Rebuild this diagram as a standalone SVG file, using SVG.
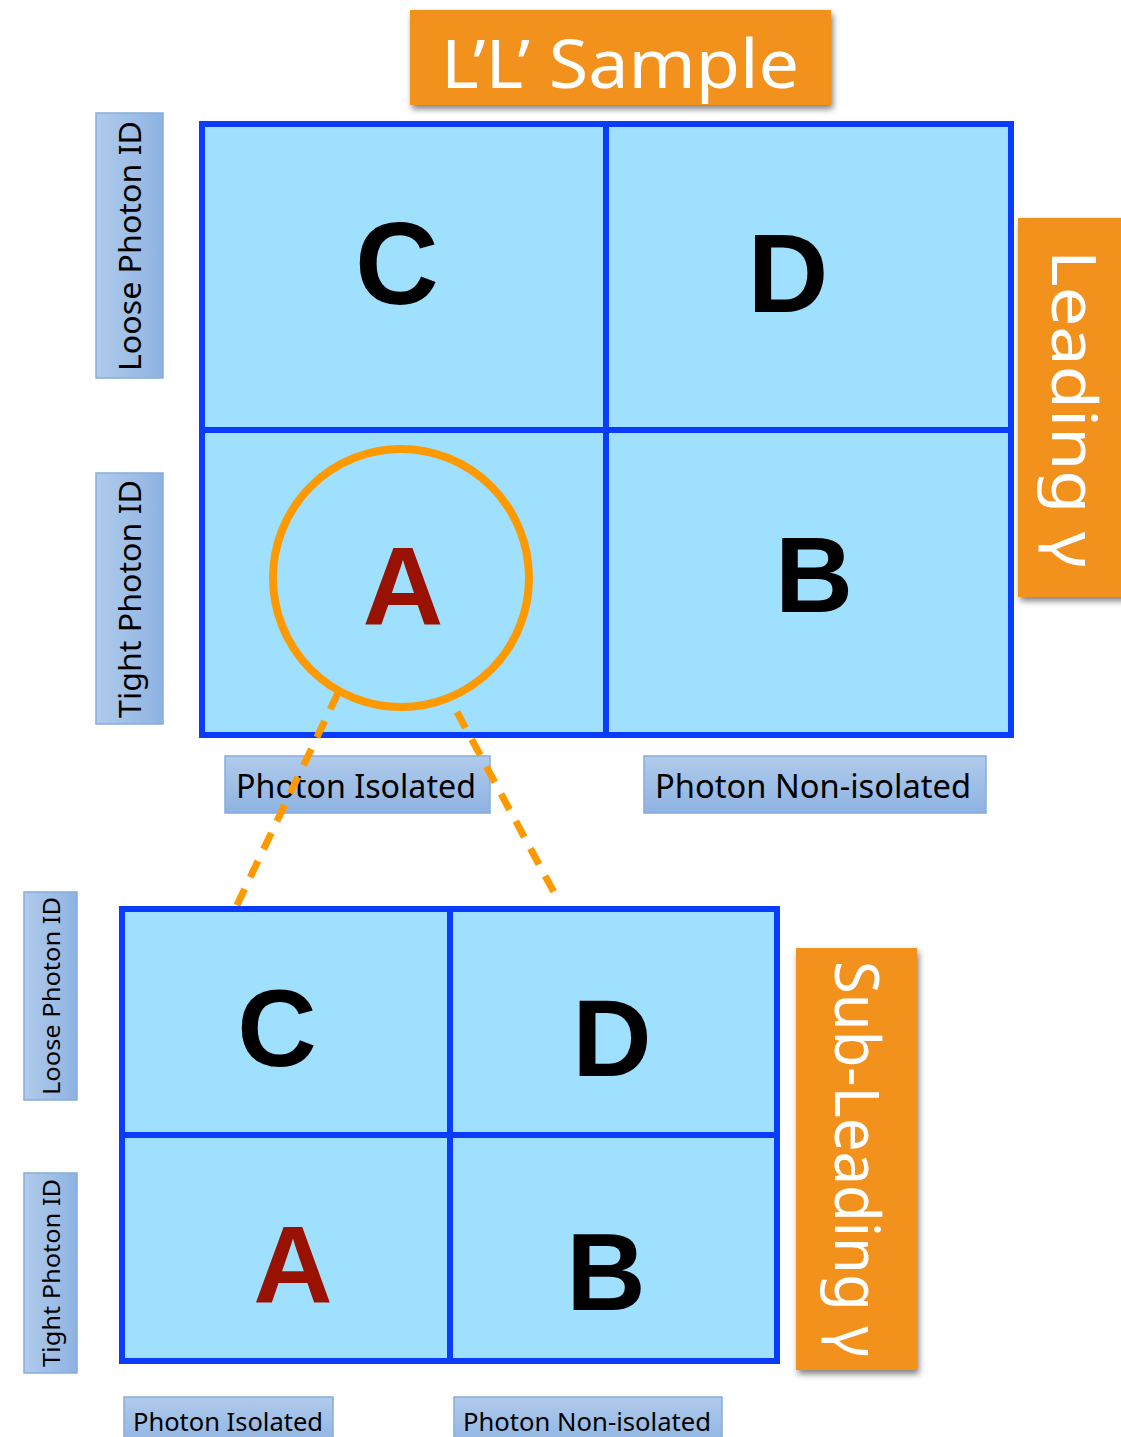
<svg xmlns="http://www.w3.org/2000/svg" width="1121" height="1437" viewBox="0 0 1121 1437">
<defs>
<linearGradient id="lbl" x1="0" y1="0" x2="0" y2="1"><stop offset="0" stop-color="#B0CBEB"/><stop offset="1" stop-color="#8EB3E2"/></linearGradient>
<linearGradient id="lblv" x1="0" y1="0" x2="1" y2="0"><stop offset="0" stop-color="#B0CBEB"/><stop offset="1" stop-color="#8EB3E2"/></linearGradient>
<filter id="sh" x="-10%" y="-10%" width="130%" height="130%"><feGaussianBlur in="SourceAlpha" stdDeviation="3"/><feOffset dx="2" dy="4"/><feComponentTransfer><feFuncA type="linear" slope="0.5"/></feComponentTransfer><feMerge><feMergeNode/><feMergeNode in="SourceGraphic"/></feMerge></filter>
</defs>
<style>
.cell{fill:#9EE0FE;stroke:#0A3CFF;stroke-width:6}
.div{stroke:#0A3CFF;stroke-width:6;fill:none}
.big{font-family:"Liberation Sans",Arial,sans-serif;font-weight:bold;text-anchor:middle;fill:#000}
.red{fill:#991100}
.orange{fill:#F2911C}
.otxt{font-family:"Noto Sans","Open Sans",sans-serif;fill:#fff;text-anchor:middle}
.lbox{fill:url(#lbl);stroke:#86ACDD;stroke-width:1.5}
.lboxv{fill:url(#lblv);stroke:#86ACDD;stroke-width:1.5}
.ltxt{font-family:"Noto Sans","Open Sans",sans-serif;fill:#000;text-anchor:middle}
.dash{stroke:#FF9900;stroke-width:7;stroke-dasharray:18 13;fill:none}
</style>

<g id="title"><rect class="orange" x="410" y="10" width="421" height="95" filter="url(#sh)"/><text class="otxt" x="620" y="88" font-size="68" textLength="358" lengthAdjust="spacingAndGlyphs">L’L’ Sample</text></g>

<g id="top-grid">
<rect class="cell" x="202" y="124" width="809" height="611"/>
<line class="div" x1="606" y1="124" x2="606" y2="735"/>
<line class="div" x1="202" y1="430" x2="1011" y2="430"/>
</g>
<g id="top-C"><text class="big" x="397" y="304" font-size="116">C</text></g>
<g id="top-D"><text class="big" x="788" y="312" font-size="112">D</text></g>
<g id="top-A"><text class="big red" x="403" y="625" font-size="112">A</text></g>
<g id="top-B"><text class="big" x="814" y="612" font-size="108">B</text></g>
<g id="circle"><ellipse cx="401" cy="578" rx="128" ry="129" fill="none" stroke="#FF9900" stroke-width="8"/></g>

<g id="leading"><rect class="orange" x="1018" y="218" width="110" height="379" filter="url(#sh)"/><text class="otxt" transform="translate(1052,409) rotate(90)" font-size="62" textLength="318" lengthAdjust="spacingAndGlyphs">Leading γ</text></g>

<g id="top-loose"><rect class="lboxv" x="96" y="113" width="67" height="265"/><text class="ltxt" transform="translate(141,246) rotate(-90)" font-size="30" textLength="250" lengthAdjust="spacingAndGlyphs">Loose Photon ID</text></g>
<g id="top-tight"><rect class="lboxv" x="96" y="473" width="67" height="251"/><text class="ltxt" transform="translate(141,599) rotate(-90)" font-size="30" textLength="238" lengthAdjust="spacingAndGlyphs">Tight Photon ID</text></g>
<g id="top-iso"><rect class="lbox" x="225" y="756" width="265" height="57"/><text class="ltxt" x="356" y="798" font-size="32" textLength="240" lengthAdjust="spacingAndGlyphs">Photon Isolated</text></g>
<g id="top-noniso"><rect class="lbox" x="644" y="756" width="342" height="57"/><text class="ltxt" x="813" y="798" font-size="32" textLength="316" lengthAdjust="spacingAndGlyphs">Photon Non-isolated</text></g>

<g id="connectors">
<line class="dash" x1="338" y1="693" x2="236" y2="907"/>
<line class="dash" x1="457" y1="712" x2="556" y2="896"/>
</g>

<g id="bottom-grid">
<rect class="cell" x="122" y="909" width="655" height="452"/>
<line class="div" x1="450" y1="909" x2="450" y2="1361"/>
<line class="div" x1="122" y1="1135" x2="777" y2="1135"/>
</g>
<g id="bot-C"><text class="big" x="277" y="1066" font-size="110">C</text></g>
<g id="bot-D"><text class="big" x="612" y="1076" font-size="110">D</text></g>
<g id="bot-A"><text class="big red" x="293" y="1302" font-size="110">A</text></g>
<g id="bot-B"><text class="big" x="606" y="1310" font-size="110">B</text></g>

<g id="subleading"><rect class="orange" x="796" y="948" width="121" height="422" filter="url(#sh)"/><text class="otxt" transform="translate(835,1159) rotate(90)" font-size="62" textLength="396" lengthAdjust="spacingAndGlyphs">Sub-Leading γ</text></g>

<g id="bot-loose"><rect class="lboxv" x="24" y="892" width="53" height="208"/><text class="ltxt" transform="translate(60,996) rotate(-90)" font-size="24" textLength="198" lengthAdjust="spacingAndGlyphs">Loose Photon ID</text></g>
<g id="bot-tight"><rect class="lboxv" x="24" y="1173" width="53" height="200"/><text class="ltxt" transform="translate(60,1273) rotate(-90)" font-size="24" textLength="188" lengthAdjust="spacingAndGlyphs">Tight Photon ID</text></g>
<g id="bot-iso"><rect class="lbox" x="124" y="1397" width="209" height="50"/><text class="ltxt" x="228" y="1431" font-size="26" textLength="190" lengthAdjust="spacingAndGlyphs">Photon Isolated</text></g>
<g id="bot-noniso"><rect class="lbox" x="454" y="1397" width="268" height="50"/><text class="ltxt" x="587" y="1431" font-size="26" textLength="248" lengthAdjust="spacingAndGlyphs">Photon Non-isolated</text></g>
</svg>
